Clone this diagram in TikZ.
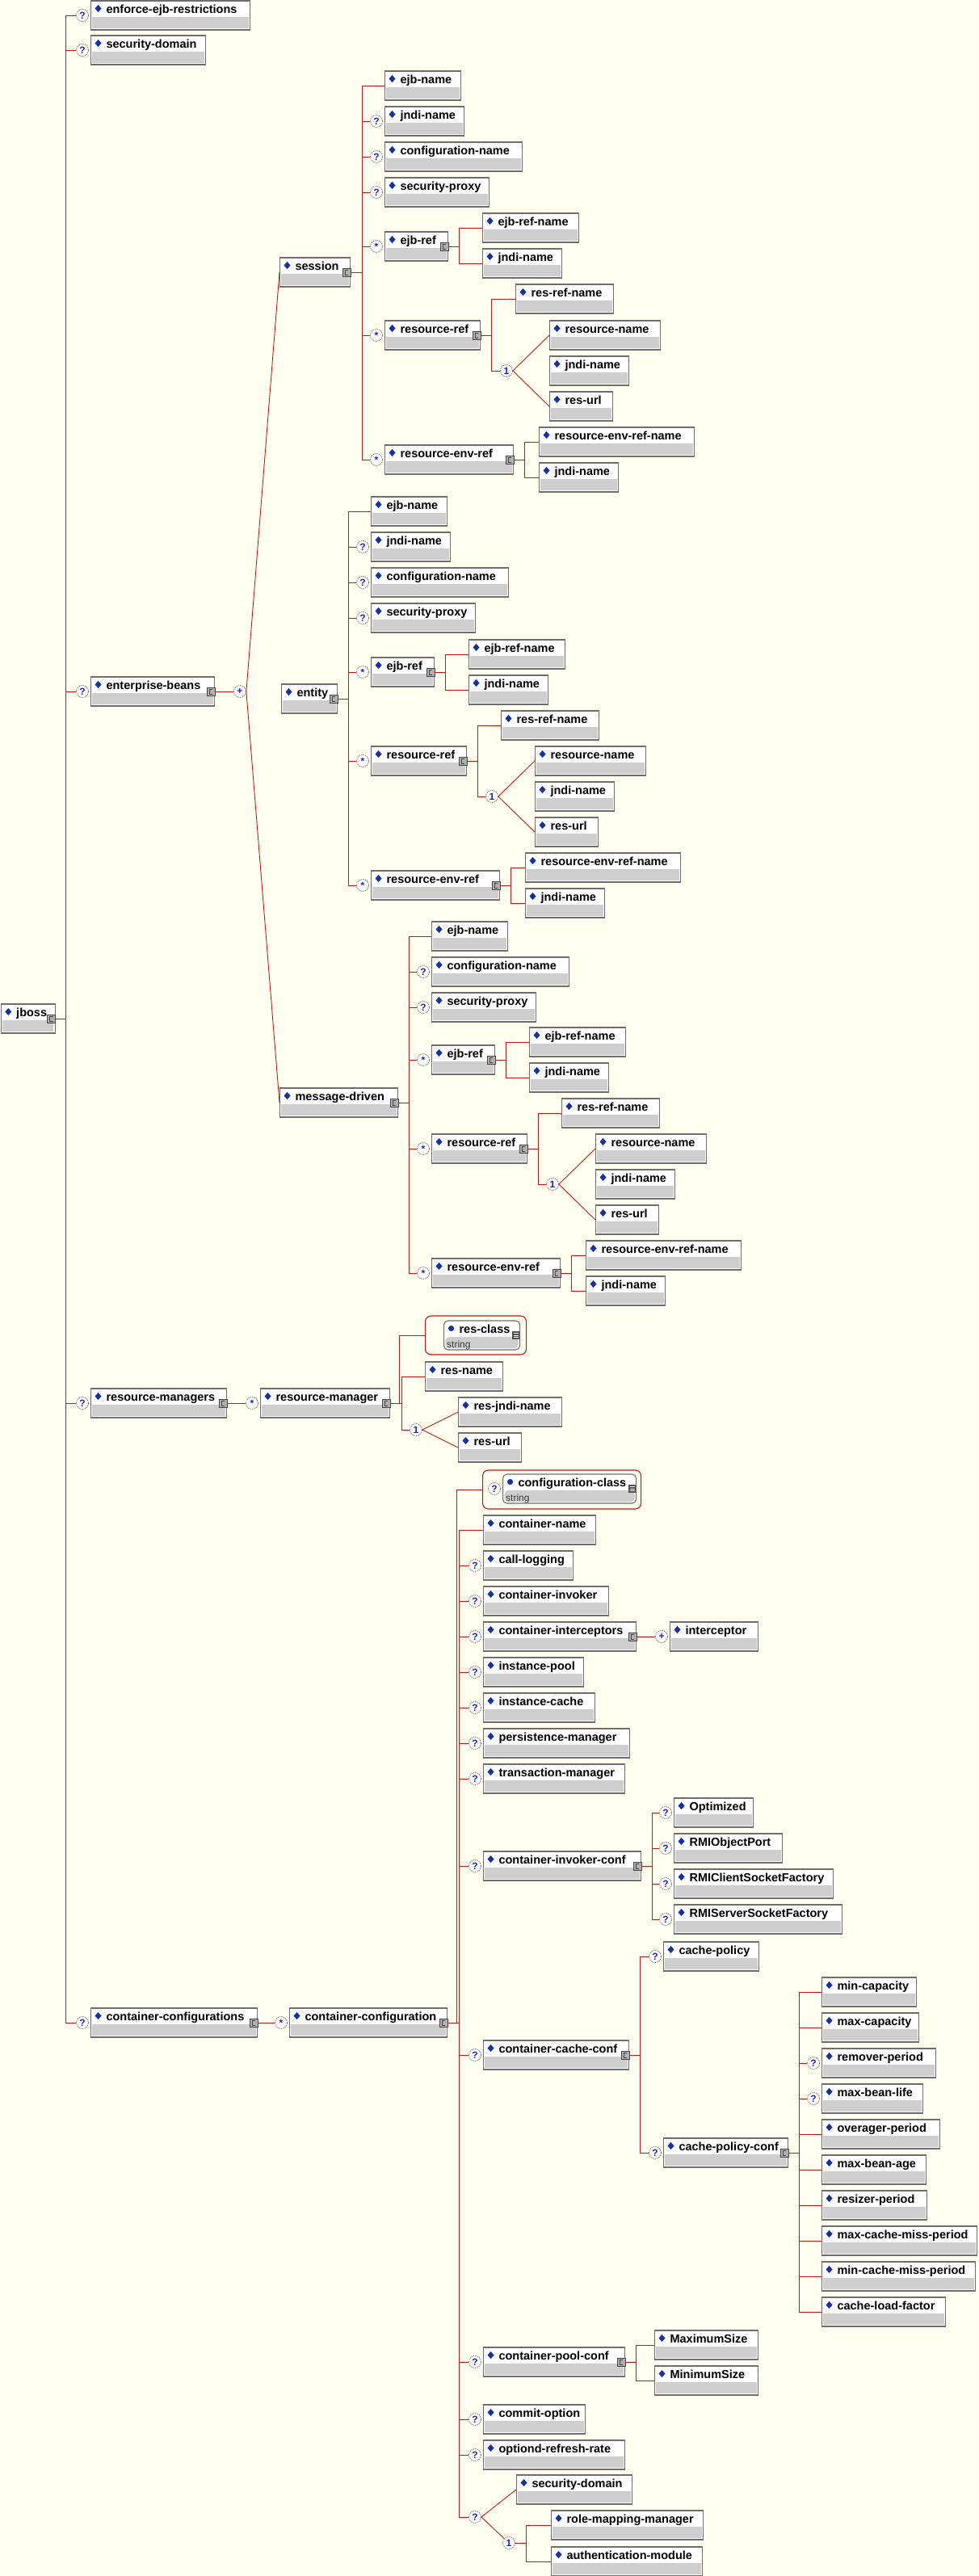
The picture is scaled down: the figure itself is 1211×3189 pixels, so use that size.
\documentclass[tikz,border=0pt]{standalone}
\usepackage{fontspec}
\setmainfont{Liberation Sans}
\usetikzlibrary{calc}
\definecolor{bg}{RGB}{255,255,240}
\definecolor{lred}{RGB}{200,20,20}
\definecolor{bord}{RGB}{110,110,110}
\definecolor{gfill}{RGB}{206,206,206}
\definecolor{dblue}{RGB}{20,50,160}
\definecolor{oblue}{RGB}{30,30,210}
\definecolor{ogray}{RGB}{120,120,120}
\definecolor{icfill}{RGB}{175,175,175}
\definecolor{icbord}{RGB}{70,70,70}
\definecolor{lstfill}{RGB}{80,80,80}
\definecolor{stxt}{RGB}{60,60,60}
\newcommand\elfont{\bfseries\fontsize{14.5}{17}\selectfont}
\newcommand\occfont{\bfseries\fontsize{12}{12}\selectfont}
\newcommand\Elm[5]{\node[elem=#4] (#1) at (#2,#3+18) {\noindent\hspace*{19pt}\mbox{#5}};}
\newcommand\ElS[5]{\node[strel=#4] (#1) at (#2,#3+18) {\noindent\hspace*{19pt}\mbox{#5}};
  \node[strtxt] (#1-s) at ([xshift=4pt,yshift=3.5pt]#1.south west) {string};
  \fill[lstfill] ([xshift=-10pt,yshift=5pt]#1.east) rectangle ([xshift=-1pt,yshift=-5pt]#1.east);
  \foreach \yy in {2.5,0,-2.5} \draw[white,line width=0.6pt] ([xshift=-8.5pt,yshift=\yy pt]#1.east) -- ([xshift=-2.5pt,yshift=\yy pt]#1.east);}
\newcommand\Occ[2]{\node[occ] (#1-o) at ([xshift=-10pt]#1.west) {#2};}
\newcommand\Cplx[1]{\draw[fill=icfill,draw=icbord,line width=0.8pt] ([xshift=-10pt,yshift=5pt]#1.east) rectangle ([yshift=-5pt]#1.east);
  \draw[icbord,line width=0.8pt] ([xshift=-3pt,yshift=3pt]#1.east) -- ([xshift=-7pt,yshift=3pt]#1.east) -- ([xshift=-7pt,yshift=-3pt]#1.east) -- ([xshift=-3pt,yshift=-3pt]#1.east);}
\tikzset{
 conn/.style={draw=lred, line width=0.9pt},
 boxbase/.style={draw=bord, line width=1.1pt, fill=white, inner sep=0pt, anchor=west,
   text width=#1pt, text height=15pt, text depth=21pt, align=left, font=\elfont},
 elem/.style={boxbase=#1, path picture={
   \fill[gfill] ([xshift=1.8pt,yshift=1.8pt]path picture bounding box.south west) rectangle ([xshift=-1.8pt,yshift=-20pt]path picture bounding box.north east);
   \fill[dblue] ([xshift=9pt,yshift=-9.5pt]path picture bounding box.north west) +(0pt,4.5pt) -- +(4pt,0pt) -- +(0pt,-4.5pt) -- +(-4pt,0pt) -- cycle;}},
 strel/.style={boxbase=#1, rounded corners=5pt, path picture={
   \fill[gfill] ([xshift=1.8pt,yshift=1.8pt]path picture bounding box.south west) rectangle ([xshift=-1.8pt,yshift=-20pt]path picture bounding box.north east);
   \fill[dblue] ([xshift=9pt,yshift=-9.5pt]path picture bounding box.north west) circle (3.6pt);}},
 grp/.style={draw=lred, line width=1.1pt, rounded corners=7pt, minimum height=48pt, inner sep=0pt, anchor=west},
 occ/.style={circle, minimum size=15pt, inner sep=0pt, fill=white, draw=ogray, line width=0.8pt,
   dash pattern=on 1.5pt off 1pt, font=\occfont, text=oblue},
 strtxt/.style={anchor=base west, inner sep=0pt, font=\fontsize{12}{12}\selectfont, text=stxt},
}
\begin{document}
\begin{tikzpicture}[x=1pt,y=-1pt]
\fill[bg] (0,0) rectangle (1211,3189);
\useasboundingbox (0,0) rectangle (1211,3189);
% ---- root level
\Elm{jboss}{0.7}{1243}{67}{jboss}\Cplx{jboss}
\Elm{eer}{112}{1}{197}{enforce-ejb-restrictions}\Occ{eer}{?}
\Elm{sd}{112}{44}{142}{security-domain}\Occ{sd}{?}
\Elm{eb}{112}{838}{153}{enterprise-beans}\Occ{eb}{?}\Cplx{eb}
\Elm{rms}{112}{1719}{168}{resource-managers}\Occ{rms}{?}\Cplx{rms}
\Elm{ccs}{112}{2486}{206}{container-configurations}\Occ{ccs}{?}\Cplx{ccs}
% ---- enterprise beans
\node[occ] (ebc) at (297,856) {+};
\Elm{ses}{346}{319}{87}{session}\Cplx{ses}
\Elm{ent}{348}{847}{69}{entity}\Cplx{ent}
\Elm{md}{346}{1347}{146}{message-driven}\Cplx{md}
% session
\Elm{s1}{476}{88}{94}{ejb-name}
\Elm{s2}{476}{132}{98}{jndi-name}\Occ{s2}{?}
\Elm{s3}{476}{176}{170}{configuration-name}\Occ{s3}{?}
\Elm{s4}{476}{220}{129}{security-proxy}\Occ{s4}{?}
\Elm{s5}{476}{287}{78}{ejb-ref}\Occ{s5}{*}\Cplx{s5}
\Elm{s5a}{597}{264}{119}{ejb-ref-name}
\Elm{s5b}{597}{308}{98}{jndi-name}
\Elm{s6}{476}{397}{118}{resource-ref}\Occ{s6}{*}\Cplx{s6}
\Elm{s6a}{638}{352}{121}{res-ref-name}
\node[occ] (s6c) at (627,459) {1};
\Elm{s6b}{680}{397}{137}{resource-name}
\Elm{s6d}{680}{441}{98}{jndi-name}
\Elm{s6e}{680}{485}{78}{res-url}
\Elm{s7}{476}{551}{159}{resource-env-ref}\Occ{s7}{*}\Cplx{s7}
\Elm{s7a}{667}{529}{192}{resource-env-ref-name}
\Elm{s7b}{667}{573}{98}{jndi-name}
% entity
\Elm{e1}{459}{615}{94}{ejb-name}
\Elm{e2}{459}{659}{98}{jndi-name}\Occ{e2}{?}
\Elm{e3}{459}{703}{170}{configuration-name}\Occ{e3}{?}
\Elm{e4}{459}{747}{129}{security-proxy}\Occ{e4}{?}
\Elm{e5}{459}{814}{78}{ejb-ref}\Occ{e5}{*}\Cplx{e5}
\Elm{e5a}{580}{792}{119}{ejb-ref-name}
\Elm{e5b}{580}{836}{98}{jndi-name}
\Elm{e6}{459}{924}{118}{resource-ref}\Occ{e6}{*}\Cplx{e6}
\Elm{e6a}{620}{880}{121}{res-ref-name}
\node[occ] (e6c) at (609,986) {1};
\Elm{e6b}{662}{924}{137}{resource-name}
\Elm{e6d}{662}{968}{98}{jndi-name}
\Elm{e6e}{662}{1012}{78}{res-url}
\Elm{e7}{459}{1078}{159}{resource-env-ref}\Occ{e7}{*}\Cplx{e7}
\Elm{e7a}{650}{1056}{192}{resource-env-ref-name}
\Elm{e7b}{650}{1100}{98}{jndi-name}
% message-driven
\Elm{m1}{534}{1141}{94}{ejb-name}
\Elm{m2}{534}{1185}{170}{configuration-name}\Occ{m2}{?}
\Elm{m3}{534}{1229}{129}{security-proxy}\Occ{m3}{?}
\Elm{m4}{534}{1294}{78}{ejb-ref}\Occ{m4}{*}\Cplx{m4}
\Elm{m4a}{655}{1272}{119}{ejb-ref-name}
\Elm{m4b}{655}{1316}{98}{jndi-name}
\Elm{m5}{534}{1404}{118}{resource-ref}\Occ{m5}{*}\Cplx{m5}
\Elm{m5a}{695}{1360}{121}{res-ref-name}
\node[occ] (m5c) at (684,1466) {1};
\Elm{m5b}{737}{1404}{137}{resource-name}
\Elm{m5d}{737}{1448}{98}{jndi-name}
\Elm{m5e}{737}{1492}{78}{res-url}
\Elm{m6}{534}{1558}{159}{resource-env-ref}\Occ{m6}{*}\Cplx{m6}
\Elm{m6a}{725}{1536}{192}{resource-env-ref-name}
\Elm{m6b}{725}{1580}{98}{jndi-name}
% ---- resource managers
\Elm{rm}{322}{1719}{160}{resource-manager}\Occ{rm}{*}\Cplx{rm}
\node[grp, minimum width=125pt] (g1) at (526,1653) {};
\ElS{rcls}{549}{1635}{94}{res-class}
\Elm{rn}{526}{1686}{96}{res-name}
\node[occ] (rmc) at (515,1770) {1};
\Elm{rjn}{567}{1730}{128}{res-jndi-name}
\Elm{ru}{567}{1774}{78}{res-url}
% ---- container configurations
\Elm{cc}{358}{2486}{195}{container-configuration}\Occ{cc}{*}\Cplx{cc}
\node[grp, minimum width=196pt] (g2) at (597,1844) {};
\ElS{ccls}{622}{1825}{165}{configuration-class}\Occ{ccls}{?}
\Elm{c1}{598}{1876}{139}{container-name}
\Elm{c2}{598}{1920}{111}{call-logging}\Occ{c2}{?}
\Elm{c3}{598}{1964}{155}{container-invoker}\Occ{c3}{?}
\Elm{c4}{598}{2008}{189}{container-interceptors}\Occ{c4}{?}\Cplx{c4}
\Elm{c4a}{829}{2008}{109}{interceptor}\Occ{c4a}{+}
\Elm{c5}{598}{2052}{124}{instance-pool}\Occ{c5}{?}
\Elm{c6}{598}{2096}{138}{instance-cache}\Occ{c6}{?}
\Elm{c7}{598}{2140}{181}{persistence-manager}\Occ{c7}{?}
\Elm{c8}{598}{2184}{175}{transaction-manager}\Occ{c8}{?}
\Elm{c9}{598}{2292}{195}{container-invoker-conf}\Occ{c9}{?}\Cplx{c9}
\Elm{c9a}{834}{2226}{98}{Optimized}\Occ{c9a}{?}
\Elm{c9b}{834}{2270}{134}{RMIObjectPort}\Occ{c9b}{?}
\Elm{c9c}{834}{2314}{197}{RMIClientSocketFactory}\Occ{c9c}{?}
\Elm{c9d}{834}{2358}{208}{RMIServerSocketFactory}\Occ{c9d}{?}
\Elm{c10}{598}{2526}{180}{container-cache-conf}\Occ{c10}{?}\Cplx{c10}
\Elm{c10a}{821}{2404}{118}{cache-policy}\Occ{c10a}{?}
\Elm{c10b}{821}{2647}{154}{cache-policy-conf}\Occ{c10b}{?}\Cplx{c10b}
\Elm{k1}{1017}{2448}{117}{min-capacity}
\Elm{k2}{1017}{2492}{120}{max-capacity}
\Elm{k3}{1017}{2536}{141}{remover-period}\Occ{k3}{?}
\Elm{k4}{1017}{2580}{125}{max-bean-life}\Occ{k4}{?}
\Elm{k5}{1017}{2624}{146}{overager-period}
\Elm{k6}{1017}{2668}{129}{max-bean-age}
\Elm{k7}{1017}{2712}{130}{resizer-period}
\Elm{k8}{1017}{2756}{192}{max-cache-miss-period}
\Elm{k9}{1017}{2800}{190}{min-cache-miss-period}
\Elm{k10}{1017}{2844}{153}{cache-load-factor}
\Elm{c11}{598}{2906}{175}{container-pool-conf}\Occ{c11}{?}\Cplx{c11}
\Elm{c11a}{810}{2885}{128}{MaximumSize}
\Elm{c11b}{810}{2929}{128}{MinimumSize}
\Elm{c12}{598}{2977}{126}{commit-option}\Occ{c12}{?}
\Elm{c13}{598}{3021}{175}{optiond-refresh-rate}\Occ{c13}{?}
\node[occ] (cq) at (588,3116) {?};
\Elm{c14}{639}{3064}{143}{security-domain}
\node[occ] (cq1) at (630,3148) {1};
\Elm{c15}{682}{3108}{188}{role-mapping-manager}
\Elm{c16}{682}{3153}{187}{authentication-module}
% ---- connectors
\foreach \nm in {eer,sd,eb,rms,ccs} \draw[conn] (jboss.east) -- ++(13,0) |- (\nm-o.west);
\draw[conn] (eb.east) -- (ebc.west);
\draw[conn] (ebc.east) -- (ses.west);
\draw[conn] (ebc.east) -- (md.west);
% session
\draw[conn] (ses.east) -- ++(14,0) |- (s1.west);
\foreach \nm in {s2,s3,s4,s5,s6,s7} \draw[conn] (ses.east) -- ++(14,0) |- (\nm-o.west);
\foreach \nm in {s5a,s5b} \draw[conn] (s5.east) -- ++(13,0) |- (\nm.west);
\foreach \nm in {s6a,s6c} \draw[conn] (s6.east) -- ++(13,0) |- (\nm.west);
\draw[conn] (s6c.east) -- (s6b.west);
\draw[conn] (s6c.east) -- (s6e.west);
\foreach \nm in {s7a,s7b} \draw[conn] (s7.east) -- ++(13,0) |- (\nm.west);
% entity
\draw[conn] (ent.east) -- ++(13,0) |- (e1.west);
\foreach \nm in {e2,e3,e4,e5,e6,e7} \draw[conn] (ent.east) -- ++(13,0) |- (\nm-o.west);
\foreach \nm in {e5a,e5b} \draw[conn] (e5.east) -- ++(13,0) |- (\nm.west);
\foreach \nm in {e6a,e6c} \draw[conn] (e6.east) -- ++(13,0) |- (\nm.west);
\draw[conn] (e6c.east) -- (e6b.west);
\draw[conn] (e6c.east) -- (e6e.west);
\foreach \nm in {e7a,e7b} \draw[conn] (e7.east) -- ++(13,0) |- (\nm.west);
% message-driven
\draw[conn] (md.east) -- ++(13,0) |- (m1.west);
\foreach \nm in {m2,m3,m4,m5,m6} \draw[conn] (md.east) -- ++(13,0) |- (\nm-o.west);
\foreach \nm in {m4a,m4b} \draw[conn] (m4.east) -- ++(13,0) |- (\nm.west);
\foreach \nm in {m5a,m5c} \draw[conn] (m5.east) -- ++(13,0) |- (\nm.west);
\draw[conn] (m5c.east) -- (m5b.west);
\draw[conn] (m5c.east) -- (m5e.west);
\foreach \nm in {m6a,m6b} \draw[conn] (m6.east) -- ++(13,0) |- (\nm.west);
% resource managers
\draw[conn] (rms.east) -- (rm-o.west);
\draw[conn] (rm.east) -- ++(11,0) |- (g1.west);
\foreach \nm in {rn,rmc} \draw[conn] (rm.east) -- ++(14,0) |- (\nm.west);
\draw[conn] (rmc.east) -- (rjn.west);
\draw[conn] (rmc.east) -- (ru.west);
% container configurations
\draw[conn] (ccs.east) -- (cc-o.west);
\draw[conn] (cc.east) -- ++(11,0) |- (g2.west);
\foreach \nm in {c1,cq} \draw[conn] (cc.east) -- ++(14,0) |- (\nm.west);
\foreach \nm in {c2,c3,c4,c5,c6,c7,c8,c9,c10,c11,c12,c13} \draw[conn] (cc.east) -- ++(14,0) |- (\nm-o.west);
\draw[conn] (c4.east) -- (c4a-o.west);
\foreach \nm in {c9a,c9b,c9c,c9d} \draw[conn] (c9.east) -- ++(13,0) |- (\nm-o.west);
\foreach \nm in {c10a,c10b} \draw[conn] (c10.east) -- ++(13,0) |- (\nm-o.west);
\foreach \nm in {k1,k2,k5,k6,k7,k8,k9,k10} \draw[conn] (c10b.east) -- ++(13,0) |- (\nm.west);
\foreach \nm in {k3,k4} \draw[conn] (c10b.east) -- ++(13,0) |- (\nm-o.west);
\foreach \nm in {c11a,c11b} \draw[conn] (c11.east) -- ++(13,0) |- (\nm.west);
\draw[conn] (cq.east) -- (c14.west);
\draw[conn] (cq.east) -- (cq1);
\foreach \nm in {c15,c16} \draw[conn] (cq1.east) -- ++(14,0) |- (\nm.west);
\end{tikzpicture}
\end{document}
